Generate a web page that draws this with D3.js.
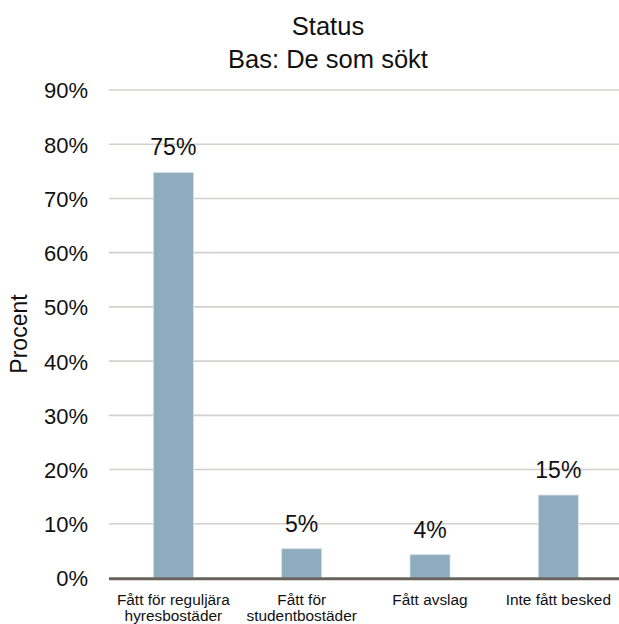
<!DOCTYPE html>
<html>
<head>
<meta charset="utf-8">
<script src="https://cdn.jsdelivr.net/npm/d3@7"></script>
<style>
  html, body { margin: 0; padding: 0; background: #fff; }
  svg { display: block; font-family: "Liberation Sans", Arial, sans-serif; }
</style>
</head>
<body>
<svg id="chart" width="619" height="624"></svg>
<script>
// Status of applications, share of those who applied
const titleLines = ["Status", "Bas: De som sökt"];
const categories = [
  ["Fått för reguljära", "hyresbostäder"],
  ["Fått för", "studentbostäder"],
  ["Fått avslag"],
  ["Inte fått besked"]
];
const values = [74.8, 5.4, 4.3, 15.3];
const yTicks = [0, 10, 20, 30, 40, 50, 60, 70, 80, 90];
const yLabel = "Procent";

const svg = d3.select("#chart");

const x = d3.scaleBand()
  .domain(d3.range(categories.length))
  .range([109.2, 622.5])
  .paddingInner(0.688)
  .paddingOuter(0.344);

const y = d3.scaleLinear().domain([0, 90]).range([578, 90]);
const pct = d3.format(".0%");

// horizontal gridlines
svg.append("g")
  .selectAll("line")
  .data(yTicks.filter(t => t > 0))
  .join("line")
  .attr("x1", 109).attr("x2", 623)
  .attr("y1", d => y(d)).attr("y2", d => y(d))
  .attr("stroke", "#d3d0cb")
  .attr("stroke-width", 1.6);

// y axis tick labels
const yAxis = d3.axisLeft(y)
  .tickValues(yTicks)
  .tickSize(0)
  .tickPadding(0)
  .tickFormat(d => pct(d / 100));
svg.append("g")
  .attr("transform", "translate(88,0)")
  .call(yAxis)
  .call(g => g.select(".domain").remove())
  .call(g => g.selectAll("text")
    .attr("font-size", 22)
    .attr("font-family", "Liberation Sans, Arial, sans-serif")
    .attr("fill", "#111")
    .attr("dy", "0.36em"));

// bars
svg.append("g")
  .selectAll("rect")
  .data(values)
  .join("rect")
  .attr("x", (d, i) => x(i))
  .attr("width", x.bandwidth())
  .attr("y", d => y(d))
  .attr("height", d => y(0) - y(d))
  .attr("fill", "#8eacbe")
  .attr("stroke", "#d6e2ea")
  .attr("stroke-width", 0.8);

// value labels
svg.append("g")
  .selectAll("text")
  .data(values)
  .join("text")
  .attr("x", (d, i) => x(i) + x.bandwidth() / 2)
  .attr("y", d => y(d) - 17)
  .attr("text-anchor", "middle")
  .attr("font-size", 23)
  .attr("fill", "#111")
  .text(d => pct(d / 100));

// baseline axis
svg.append("line")
  .attr("x1", 109).attr("x2", 623)
  .attr("y1", y(0) + 0.8).attr("y2", y(0) + 0.8)
  .attr("stroke", "#68625d")
  .attr("stroke-width", 3);

// category labels
const xl = svg.append("g")
  .selectAll("text")
  .data(categories)
  .join("text")
  .attr("x", (d, i) => x(i) + x.bandwidth() / 2)
  .attr("y", 604.5)
  .attr("text-anchor", "middle")
  .attr("font-size", 15.4)
  .attr("fill", "#111");
xl.selectAll("tspan")
  .data(d => d)
  .join("tspan")
  .attr("x", function () { return d3.select(this.parentNode).attr("x"); })
  .attr("dy", (d, i) => i === 0 ? 0 : 16)
  .text(d => d);

// axis title
svg.append("text")
  .attr("transform", "translate(27,334) rotate(-90)")
  .attr("text-anchor", "middle")
  .attr("font-size", 23)
  .attr("fill", "#111")
  .text(yLabel);

// chart title
svg.append("text")
  .attr("x", 328)
  .attr("y", 35)
  .attr("text-anchor", "middle")
  .attr("font-size", 25.5)
  .attr("fill", "#111")
  .selectAll("tspan")
  .data(titleLines)
  .join("tspan")
  .attr("x", 328)
  .attr("dy", (d, i) => i === 0 ? 0 : 33.3)
  .text(d => d);
</script>
</body>
</html>
